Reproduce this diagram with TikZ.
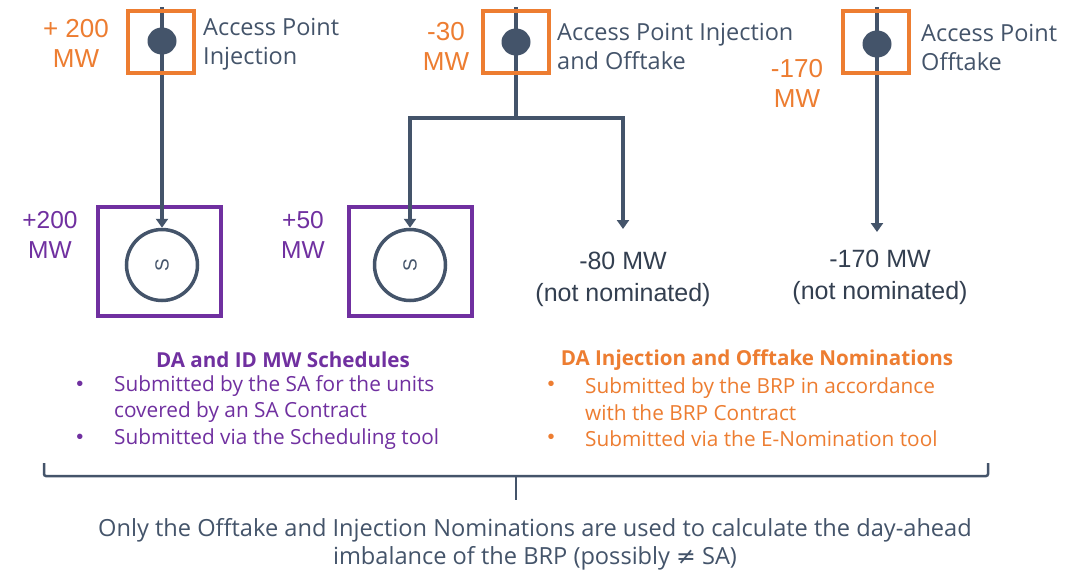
\documentclass[tikz,border=0pt]{standalone}
\usepackage{fontspec}
\setmainfont{Liberation Sans}
\newfontfamily\osans{Open Sans}
\usetikzlibrary{arrows.meta,shapes.geometric}
\definecolor{orng}{HTML}{ED7D31}
\definecolor{purp}{HTML}{7030A0}
\definecolor{slate}{HTML}{44546A}
\definecolor{dtext}{HTML}{333F50}
\tikzset{
  apbox/.style={draw=orng,line width=4pt,minimum width=66pt,minimum height=62pt,inner sep=0pt},
  apdot/.style={ellipse,fill=slate,minimum width=29pt,minimum height=27pt,inner sep=0pt},
  genbox/.style={draw=purp,line width=4pt,minimum width=123pt,minimum height=109pt,inner sep=0pt},
  gen/.style={circle,draw=slate,line width=3.5pt,minimum size=71pt,inner sep=0pt,font=\fontsize{19}{19}\selectfont\color{slate}},
  wire/.style={draw=slate,line width=4pt},
  conn/.style={draw=slate,line width=4pt,-{Triangle[width=12pt,length=9pt]}},
  orglab/.style={text=orng,font=\fontsize{26}{30}\selectfont,align=center,inner sep=0pt},
  purlab/.style={text=purp,font=\fontsize{24.5}{30}\selectfont,align=center,inner sep=0pt},
  aplab/.style={text=slate,font=\osans\fontsize{23.5}{29}\selectfont,align=left,anchor=west,inner sep=0pt},
  nnlab/.style={text=dtext,font=\fontsize{25}{32}\selectfont,align=center,inner sep=0pt},
  head/.style={font=\osans\bfseries\fontsize{20.6}{26}\selectfont,inner sep=0pt},
  bul/.style={font=\osans\fontsize{20.8}{26.5}\selectfont,anchor=west,inner sep=0pt,align=left},
  bdot/.style={font=\fontsize{20}{20}\selectfont,inner sep=0pt},
  brace/.style={draw=slate,line width=2.5pt,rounded corners=2pt},
}
\begin{document}
\begin{tikzpicture}[x=1pt,y=-1pt]
\useasboundingbox[fill=white] (0,0) rectangle (1079,570);

% ---- Access point 1
\coordinate (top1) at (162,7);
\node[gen] (gen1) at (162,265) {\rotatebox{90}{S}};
\node[genbox] (gb1) at (159,261) {};
\draw[conn] (top1) -- (gen1);
\node[apbox] (ap1) at (161,42) {};
\node[apdot] (d1) at (162,41) {};
\node[orglab] (v1) at (76,43) {+ 200\\MW};
\node[aplab] (l1) at (203,44) {Access Point\\Injection};
\node[purlab] (p1) at (50,235) {+200\\MW};

% ---- Access point 2
\coordinate (top2) at (516,7);
\coordinate (j2) at (516,118);
\coordinate (t80) at (623,229);
\node[gen] (gen2) at (410,265) {\rotatebox{90}{S}};
\node[genbox] (gb2) at (410,261) {};
\draw[wire] (top2) -- (j2);
\draw[conn,line join=miter] (j2) -| (gen2);
\draw[conn,line join=miter] (j2) -| (t80);
\node[apbox] (ap2) at (516,42) {};
\node[apdot] (d2) at (516,42) {};
\node[orglab] (v2) at (446,46) {-30\\MW};
\node[aplab] (l2) at (557,46) {Access Point Injection\\and Offtake};
\node[purlab] (p2) at (303,235) {+50\\MW};
\node[nnlab] (n80) at (623,279) {-80 MW\\(not nominated)};

% ---- Access point 3
\coordinate (top3) at (877,7);
\coordinate (t170) at (877,232);
\draw[conn] (top3) -- (t170);
\node[apbox] (ap3) at (876,42) {};
\node[apdot] (d3) at (877,44) {};
\node[orglab] (v3) at (797,83) {-170\\MW};
\node[aplab] (l3) at (921,47) {Access Point\\Offtake};
\node[nnlab] (n170) at (880,277) {-170 MW\\(not nominated)};

% ---- Purple legend
\node[head,text=purp] (h1) at (283,360) {DA and ID MW Schedules};
\node[bdot,text=purp] (b11) at (80,386) {\textbullet};
\node[bul,text=purp] (t11) at (114,399) {Submitted by the SA for the units\\covered by an SA Contract};
\node[bdot,text=purp] (b12) at (80,439) {\textbullet};
\node[bul,text=purp] (t12) at (114,439) {Submitted via the Scheduling tool};

% ---- Orange legend
\node[head,text=orng] (h2) at (757,360) {DA Injection and Offtake Nominations};
\node[bdot,text=orng] (b21) at (551,386) {\textbullet};
\node[bul,text=orng] (t21) at (585,399) {Submitted by the BRP in accordance\\with the BRP Contract};
\node[bdot,text=orng] (b22) at (551,439) {\textbullet};
\node[bul,text=orng] (t22) at (585,439) {Submitted via the E-Nomination tool};

% ---- Brace
\coordinate (bl) at (44,463);
\coordinate (br) at (988,463);
\coordinate (bm) at (516,476);
\coordinate (bs) at (516,500);
\draw[brace] (bl) |- (bm) -| (br);
\draw[brace] (bm) -- (bs);

% ---- Conclusion
\node[text=slate,font=\osans\fontsize{23.6}{28}\selectfont,align=center,inner sep=0pt] (concl) at (535,544)
  {Only the Offtake and Injection Nominations are used to calculate the day-ahead\\
   imbalance of the BRP (possibly {\fontspec{DejaVu Sans}≠} SA)};
\end{tikzpicture}
\end{document}
